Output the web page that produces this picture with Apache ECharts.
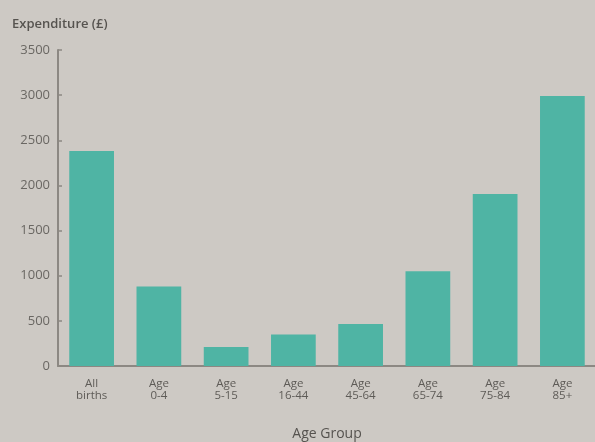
<!DOCTYPE html>
<html>
<head>
<meta charset="utf-8">
<script src="https://cdn.jsdelivr.net/npm/echarts@6/dist/echarts.min.js"></script>
<style>
  html, body { margin: 0; padding: 0; background: #cdc9c4; }
  #chart { width: 595px; height: 442px; }
</style>
</head>
<body>
<div id="chart"></div>
<script>
// Expenditure per head by age group
const categories = ['All\nbirths', 'Age\n0-4', 'Age\n5-15', 'Age\n16-44', 'Age\n45-64', 'Age\n65-74', 'Age\n75-84', 'Age\n85+'];
const expenditure = [2380, 880, 210, 350, 465, 1050, 1905, 2990];
const yTicks = [0, 500, 1000, 1500, 2000, 2500, 3000, 3500];

const chart = echarts.init(document.getElementById('chart'));
const fontFamily = '"Open Sans", "Noto Sans", sans-serif';
const axisColor = '#8c8883';

chart.setOption({
  backgroundColor: '#cdc9c4',
  animation: false,
  title: {
    text: 'Expenditure (£)',
    left: 7,
    top: 13,
    textStyle: { fontFamily, fontSize: 13, fontWeight: 600, color: '#56534f' }
  },
  grid: { left: 58, right: -1, top: 50, bottom: 76, outerBoundsMode: 'none', containLabel: false },
  xAxis: {
    type: 'category',
    data: categories,
    name: 'Age Group',
    nameLocation: 'middle',
    nameGap: 61,
    nameTextStyle: { fontFamily, fontSize: 14, color: '#56534f' },
    axisLine: { lineStyle: { color: axisColor, width: 2 } },
    axisTick: { inside: true, length: 5, lineStyle: { color: axisColor, width: 1.5 } },
    axisLabel: { fontFamily, fontSize: 11.5, color: '#5e5b57', lineHeight: 12.5, margin: 11 }
  },
  yAxis: {
    type: 'value',
    min: yTicks[0],
    max: yTicks[yTicks.length - 1],
    interval: 500,
    axisLine: { show: true, lineStyle: { color: axisColor, width: 2 } },
    axisTick: { show: true, inside: true, length: 4, lineStyle: { color: axisColor, width: 1.5 } },
    axisLabel: { fontFamily, fontSize: 13, color: '#6a6763', margin: 8, formatter: v => String(v) },
    splitLine: { show: false }
  },
  series: [{
    type: 'bar',
    data: expenditure,
    barWidth: '66.5%',
    itemStyle: { color: '#4fb4a4' }
  }]
});
</script>
</body>
</html>
